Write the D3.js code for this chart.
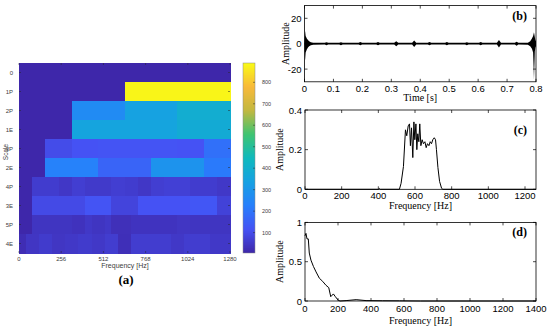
<!DOCTYPE html>
<html>
<head>
<meta charset="utf-8">
<script src="https://cdn.jsdelivr.net/npm/d3@7"></script>
<style>
  body { margin: 0; background: #fff; }
  svg { display: block; }
</style>
</head>
<body>
<script>
// ---- data ----
let rowLabels = ["0", "1P", "2P", "1E", "3P", "2E", "4P", "3E", "5P", "4E"];
let row0 = [8];
let row1P = [8, 880];
let row2P = [8, 265, 340, 390];
let row1E = [8, 350, 350, 380];
let row3P = [8, 100, 115, 120, 120, 120, 115, 190];
let row2E = [8, 235, 235, 160, 160, 290, 290, 215];
let row4P = [8, 60, 60, 48, 65, 55, 55, 65, 60, 48, 65, 70, 70, 60, 60, 50];
let row3E = [8, 95, 95, 95, 95, 120, 120, 80, 80, 115, 115, 115, 115, 125, 125, 75];
let row5P = [8, 8, 42, 42, 42, 42, 42, 42, 35, 35, 50, 42, 42, 50, 30, 30,
             30, 38, 38, 38, 38, 38, 38, 38, 45, 45, 42, 42, 42, 42, 42, 42];
let row4E = [22, 45, 45, 58, 58, 45, 45, 50, 50, 58, 58, 50, 50, 62, 62, 28,
             28, 62, 62, 62, 62, 62, 62, 50, 50, 62, 62, 62, 62, 50, 50, 50];
let rowValues = [row0, row1P, row2P, row1E, row3P, row2E, row4P, row3E, row5P, row4E];
let freqTicksA = [0, 256, 512, 768, 1024, 1280];
let colorTicks = [100, 200, 300, 400, 500, 600, 700, 800];

// (b) time signal envelope
let bTime = [0, 0.002, 0.004, 0.008, 0.012, 0.016, 0.022, 0.03, 0.07, 0.076, 0.082, 0.12, 0.126, 0.132,
  0.187, 0.193, 0.199, 0.248, 0.254, 0.26, 0.31, 0.317, 0.324, 0.372, 0.379, 0.386, 0.426, 0.432, 0.438,
  0.486, 0.492, 0.498, 0.555, 0.561, 0.567, 0.603, 0.609, 0.615, 0.665, 0.672, 0.679, 0.727, 0.733, 0.739,
  0.772, 0.78, 0.786, 0.79, 0.793, 0.796, 0.798, 0.8];
let bUpper = [0.7, 10, 6, 4, 3, 2, 1.2, 0.8, 0.7, 1.2, 0.7, 0.7, 1.2, 0.7,
  0.7, 1.3, 0.7, 0.7, 1.3, 0.7, 0.7, 2, 0.7, 0.7, 2.6, 0.7, 0.7, 1.3, 0.7,
  0.7, 1.3, 0.7, 0.7, 1.2, 0.7, 0.7, 1.3, 0.7, 0.7, 3, 0.7, 0.7, 1.6, 0.7,
  0.8, 2, 4, 6, 9, 5, 3, 2];
let bLower = [-0.7, -13, -7, -4.5, -3, -2, -1.2, -0.8, -0.7, -1.2, -0.7, -0.7, -1.2, -0.7,
  -0.7, -1.3, -0.7, -0.7, -1.3, -0.7, -0.7, -2, -0.7, -0.7, -2.6, -0.7, -0.7, -1.3, -0.7,
  -0.7, -1.3, -0.7, -0.7, -1.2, -0.7, -0.7, -1.3, -0.7, -0.7, -3, -0.7, -0.7, -1.6, -0.7,
  -0.8, -2, -4, -7, -28, -6, -3, -2];
let bTicksX = [0, 0.1, 0.2, 0.3, 0.4, 0.5, 0.6, 0.7, 0.8];
let bTicksY = [-20, 0, 20];

// (c) spectrum
let cFreq = [0, 400, 405, 410, 515, 524, 537, 548, 555, 563, 570, 575, 581, 588, 594, 599, 605, 610, 615,
  621, 626, 632, 639, 646, 654, 661, 668, 676, 683, 690, 697, 705, 712, 717, 725, 734, 745, 752, 1260];
let cAmp = [0, 0, 0.004, 0, 0, 0.03, 0.115, 0.3, 0.27, 0.32, 0.33, 0.22, 0.31, 0.16, 0.34, 0.25, 0.33, 0.2, 0.28,
  0.24, 0.33, 0.22, 0.25, 0.23, 0.24, 0.21, 0.23, 0.22, 0.24, 0.23, 0.25, 0.26, 0.25, 0.2, 0.11, 0.04, 0.005, 0, 0];
let cTicksX = [0, 200, 400, 600, 800, 1000, 1200];
let cTicksY = [0, 0.2, 0.4];

// (d) spectrum
let dFreq = [0, 6, 12, 20, 26, 36, 51, 67, 87, 107, 127, 144, 156, 172, 184, 200, 212, 249, 310, 370, 471, 573, 700, 1400];
let dAmp = [0.83, 0.86, 0.79, 0.79, 0.61, 0.52, 0.44, 0.37, 0.29, 0.25, 0.2, 0.17, 0.055, 0.09, 0.055, 0.013, 0, 0.005,
  0.017, 0.005, 0.003, 0.002, 0, 0];
let dTicksX = [0, 200, 400, 600, 800, 1000, 1200, 1400];
let dTicksY = [0, 0.5, 1];

// ---- setup ----
let width = 550;
let height = 334;
let sans = "'Liberation Sans', Arial, sans-serif";
let serif = "'Liberation Serif', 'Times New Roman', serif";

let svg = d3.select("body").append("svg")
  .attr("width", width)
  .attr("height", height);

svg.append("rect").attr("width", width).attr("height", height).attr("fill", "#fff");

// parula-ish colormap
let parulaStops = ["#3e26a8", "#4552f4", "#277ffc", "#16a1e2", "#0fb9bd", "#3fc472", "#c2b840", "#f8b93a", "#f9fb15"];
let color = d3.scaleLinear()
  .domain(d3.range(parulaStops.length).map((i) => 5 + (885 * i) / (parulaStops.length - 1)))
  .range(parulaStops)
  .interpolate(d3.interpolateRgb)
  .clamp(true);

// ---- (a) heatmap ----
let ax = d3.scaleLinear().domain([0, 1280]).range([19, 230]);
let ay = d3.scaleBand().domain(rowLabels).range([63, 253]);

let heat = svg.append("g");
rowValues.forEach((vals, r) => {
  let w = 1280 / vals.length;
  heat.selectAll(null)
    .data(vals)
    .enter()
    .append("rect")
    .attr("x", (d, i) => ax(i * w))
    .attr("y", ay(rowLabels[r]))
    .attr("width", ax(w) - ax(0) + 0.5)
    .attr("height", ay.bandwidth() + 0.5)
    .attr("shape-rendering", "crispEdges")
    .attr("fill", (d) => color(d));
});

let tickCol = "#262626";
let labCol = "#404040";
// inside ticks, bottom & top
freqTicksA.forEach((t) => {
  heat.append("line").attr("x1", ax(t)).attr("x2", ax(t)).attr("y1", 253).attr("y2", 251)
    .attr("stroke", tickCol).attr("stroke-width", 0.5);
  heat.append("line").attr("x1", ax(t)).attr("x2", ax(t)).attr("y1", 63).attr("y2", 65)
    .attr("stroke", tickCol).attr("stroke-width", 0.5);
});
heat.selectAll(null).data(freqTicksA).enter().append("text")
  .attr("x", (d) => ax(d)).attr("y", 261)
  .attr("text-anchor", "middle").attr("font-family", sans).attr("font-size", 6)
  .attr("fill", labCol).text((d) => d);

rowLabels.forEach((l) => {
  let yc = ay(l) + ay.bandwidth() / 2;
  heat.append("line").attr("x1", 19).attr("x2", 21).attr("y1", yc).attr("y2", yc)
    .attr("stroke", tickCol).attr("stroke-width", 0.5);
  heat.append("line").attr("x1", 230).attr("x2", 228).attr("y1", yc).attr("y2", yc)
    .attr("stroke", tickCol).attr("stroke-width", 0.5);
});
heat.selectAll(null).data(rowLabels).enter().append("text")
  .attr("x", 13).attr("y", (d) => ay(d) + ay.bandwidth() / 2 + 2)
  .attr("text-anchor", "end").attr("font-family", sans).attr("font-size", 6)
  .attr("fill", labCol).text((d) => d);

heat.append("text").attr("x", 125).attr("y", 268).attr("text-anchor", "middle")
  .attr("font-family", sans).attr("font-size", 7).attr("fill", labCol).text("Frequency [Hz]");
heat.append("text").attr("transform", "translate(7.5,152) rotate(-90)").attr("text-anchor", "middle")
  .attr("font-family", sans).attr("font-size", 6.5).attr("fill", labCol).text("Scale");
svg.append("text").attr("x", 126).attr("y", 284).attr("text-anchor", "middle")
  .attr("font-family", serif).attr("font-weight", "bold").attr("font-size", 13).text("(a)");

// colorbar
let cb = svg.append("g");
let cbScale = d3.scaleLinear().domain([5, 890]).range([253, 63]);
let cbSteps = d3.range(5, 890, 2);
cb.selectAll(null).data(cbSteps).enter().append("rect")
  .attr("x", 243).attr("width", 12)
  .attr("y", (d) => cbScale(d + 2))
  .attr("height", cbScale(0) - cbScale(2.6))
  .attr("shape-rendering", "crispEdges")
  .attr("fill", (d) => color(d + 1));
cb.append("rect").attr("x", 243).attr("y", 63).attr("width", 12).attr("height", 190)
  .attr("fill", "none").attr("stroke", "#8a8a8a").attr("stroke-width", 0.5);
colorTicks.forEach((t) => {
  cb.append("line").attr("x1", 253).attr("x2", 255).attr("y1", cbScale(t)).attr("y2", cbScale(t))
    .attr("stroke", tickCol).attr("stroke-width", 0.5);
});
cb.selectAll(null).data(colorTicks).enter().append("text")
  .attr("x", 262).attr("y", (d) => cbScale(d) + 2)
  .attr("font-family", sans).attr("font-size", 5.5).attr("fill", labCol).text((d) => d);

// ---- right panels ----
function panel(opts) {
  let g = svg.append("g");
  let x = d3.scaleLinear().domain(opts.xDomain).range([opts.left, opts.right]);
  let y = d3.scaleLinear().domain(opts.yDomain).range([opts.bottom, opts.top]);

  if (opts.area) {
    g.append("path").datum(opts.area)
      .attr("fill", "#000")
      .attr("d", d3.area().x((d) => x(d[0])).y0((d) => y(d[1])).y1((d) => y(d[2])));
  }
  if (opts.line) {
    g.append("path").datum(opts.line)
      .attr("fill", "none").attr("stroke", "#000").attr("stroke-width", 1)
      .attr("stroke-linejoin", "round")
      .attr("d", d3.line().x((d) => x(d[0])).y((d) => y(d[1])));
  }

  g.append("rect").attr("x", opts.left).attr("y", opts.top)
    .attr("width", opts.right - opts.left).attr("height", opts.bottom - opts.top)
    .attr("fill", "none").attr("stroke", "#000").attr("stroke-width", 0.8);

  opts.xTicks.forEach((t) => {
    g.append("line").attr("x1", x(t)).attr("x2", x(t)).attr("y1", opts.bottom).attr("y2", opts.bottom - 3)
      .attr("stroke", "#000").attr("stroke-width", 0.7);
    g.append("line").attr("x1", x(t)).attr("x2", x(t)).attr("y1", opts.top).attr("y2", opts.top + 3)
      .attr("stroke", "#000").attr("stroke-width", 0.7);
  });
  opts.yTicks.forEach((t) => {
    g.append("line").attr("x1", opts.left).attr("x2", opts.left + 3).attr("y1", y(t)).attr("y2", y(t))
      .attr("stroke", "#000").attr("stroke-width", 0.7);
    g.append("line").attr("x1", opts.right).attr("x2", opts.right - 3).attr("y1", y(t)).attr("y2", y(t))
      .attr("stroke", "#000").attr("stroke-width", 0.7);
  });

  g.selectAll(null).data(opts.xTicks).enter().append("text")
    .attr("x", (d) => x(d)).attr("y", opts.xLabY)
    .attr("text-anchor", "middle").attr("font-family", sans).attr("font-size", 9.5)
    .text((d) => d);
  g.selectAll(null).data(opts.yTicks).enter().append("text")
    .attr("x", opts.left - 3).attr("y", (d) => y(d) + 3.5)
    .attr("text-anchor", "end").attr("font-family", sans).attr("font-size", 9.5)
    .text((d) => d);

  g.append("text").attr("x", (opts.left + opts.right) / 2).attr("y", opts.titleY)
    .attr("text-anchor", "middle").attr("font-family", serif).attr("font-size", 10)
    .text(opts.xTitle);
  g.append("text")
    .attr("transform", `translate(${opts.yTitleX},${(opts.top + opts.bottom) / 2}) rotate(-90)`)
    .attr("text-anchor", "middle").attr("font-family", serif).attr("font-size", 10)
    .text("Amplitude");
  g.append("text").attr("x", opts.right - 9).attr("y", opts.tagY)
    .attr("text-anchor", "end").attr("font-family", serif).attr("font-weight", "bold").attr("font-size", 12)
    .text(opts.tag);
}

panel({
  left: 304.5, right: 536, top: 5.6, bottom: 81.8,
  xDomain: [0, 0.8], yDomain: [-30, 30],
  area: bTime.map((t, i) => [t, bLower[i], bUpper[i]]),
  xTicks: bTicksX, yTicks: bTicksY,
  xLabY: 91.5, titleY: 101, xTitle: "Time [s]", yTitleX: 289,
  tag: "(b)", tagY: 19.5
});

panel({
  left: 305, right: 536, top: 110, bottom: 189.3,
  xDomain: [0, 1260], yDomain: [0, 0.4],
  line: cFreq.map((f, i) => [f, cAmp[i]]),
  xTicks: cTicksX, yTicks: cTicksY,
  xLabY: 199, titleY: 209, xTitle: "Frequency [Hz]", yTitleX: 283,
  tag: "(c)", tagY: 134
});

panel({
  left: 305, right: 536, top: 222.4, bottom: 301,
  xDomain: [0, 1400], yDomain: [0, 1],
  line: dFreq.map((f, i) => [f, dAmp[i]]),
  xTicks: dTicksX, yTicks: dTicksY,
  xLabY: 312, titleY: 324, xTitle: "Frequency [Hz]", yTitleX: 283,
  tag: "(d)", tagY: 236
});
</script>
</body>
</html>
